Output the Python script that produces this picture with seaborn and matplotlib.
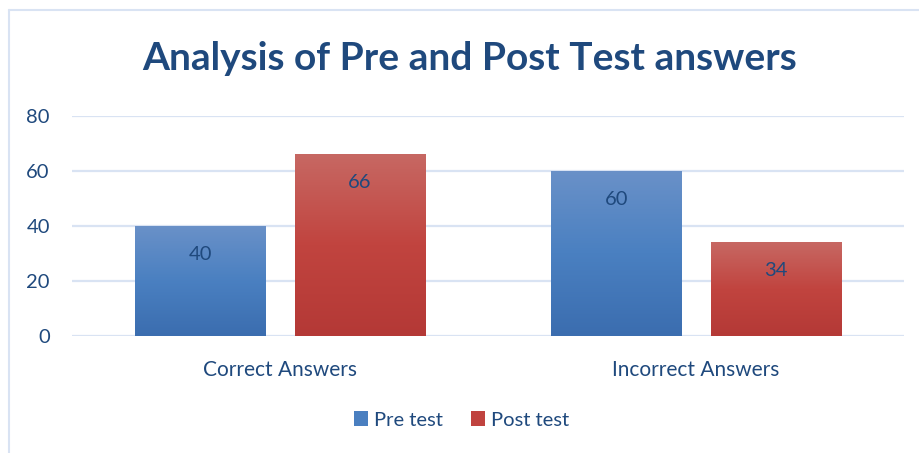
import numpy as np
import pandas as pd
import matplotlib
matplotlib.use("Agg")
import matplotlib.pyplot as plt
import seaborn as sns
from matplotlib.colors import LinearSegmentedColormap
from matplotlib.patches import Patch
from matplotlib.lines import Line2D

# ---- data ----
categories = ["Correct Answers", "Incorrect Answers"]
series_names = ["Pre test", "Post test"]
pre_values = [40, 60]
post_values = [66, 34]
y_ticks = [0, 20, 40, 60, 80]
title = "Analysis of Pre and Post Test answers"

df = pd.DataFrame({
    "category": categories * 2,
    "series": [series_names[0]] * len(categories) + [series_names[1]] * len(categories),
    "value": pre_values + post_values,
})

sns.set_theme(style="white")
plt.rcParams["font.family"] = ["Lato", "DejaVu Sans"]

text_color = "#1F497D"
grid_color = "#D9E3F3"
mid_colors = {"Pre test": "#4A7FC0", "Post test": "#C0433F"}
grad = {
    "Pre test": LinearSegmentedColormap.from_list("b", ["#3B6DAF", "#4A80C1", "#6A91C8"]),
    "Post test": LinearSegmentedColormap.from_list("r", ["#B43936", "#C1443F", "#C76863"]),
}

W, H, DPI = 920, 453, 100
fig = plt.figure(figsize=(W / DPI, H / DPI), dpi=DPI)
ax = fig.add_axes([72 / W, 1 - 336 / H, (904 - 72) / W, (336 - 115.7) / H])

sns.barplot(data=df, x="category", y="value", hue="series", order=categories,
            hue_order=series_names, palette=mid_colors, width=0.765, gap=0.183,
            ax=ax, legend=False, errorbar=None)

ax.set_ylim(0, 80)
ax.set_xlim(-0.5, 1.5)
ax.set_yticks(y_ticks)
ax.yaxis.grid(True, color=grid_color, linewidth=1.6)
ax.set_axisbelow(True)
for s in ax.spines.values():
    s.set_visible(False)
ax.set_xlabel("")
ax.set_ylabel("")
ax.tick_params(axis="y", labelsize=14.5, labelcolor=text_color, length=0, pad=16)
ax.tick_params(axis="x", labelsize=15, labelcolor=text_color, length=0, pad=17)

# gradient fill clipped to bars + labels
grad_img = np.linspace(0, 1, 256).reshape(-1, 1)
for container, name in zip(ax.containers, series_names):
    for bar in container:
        x0, y0 = bar.get_x(), bar.get_y()
        w, h = bar.get_width(), bar.get_height()
        im = ax.imshow(grad_img, extent=[x0, x0 + w, y0, y0 + h], origin="lower",
                       aspect="auto", cmap=grad[name], zorder=bar.get_zorder())
        im.set_clip_path(bar)
        bar.set_facecolor("none")
        bar.set_edgecolor("none")
        ax.annotate(f"{h:g}", xy=(x0 + w / 2, y0 + h), xytext=(0, -20.5),
                    textcoords="offset points", ha="center", va="center",
                    fontsize=14.5, color=text_color, zorder=5)
ax.set_ylim(0, 80)
ax.set_xlim(-0.5, 1.5)

fig.text(470 / W, 1 - 58 / H, title, ha="center", va="center", fontsize=28,
         fontweight="bold", color=text_color)

handles = [Patch(facecolor=mid_colors[n], edgecolor="none") for n in series_names]
fig.legend(handles, series_names, loc="center", bbox_to_anchor=(461.5 / W, 1 - 420 / H),
           ncol=2, frameon=False, fontsize=14.5, labelcolor=text_color,
           handlelength=0.7, handleheight=0.7, handletextpad=0.3, columnspacing=1.4)

# chart frame lines (top and left)
fig.add_artist(Line2D([8.5 / W, 1], [1 - 10 / H, 1 - 10 / H], transform=fig.transFigure,
                      color=grid_color, linewidth=1.5))
fig.add_artist(Line2D([8.5 / W, 8.5 / W], [0, 1 - 10 / H], transform=fig.transFigure,
                      color=grid_color, linewidth=1.5))

fig.savefig("out.png", dpi=DPI, facecolor="white")
